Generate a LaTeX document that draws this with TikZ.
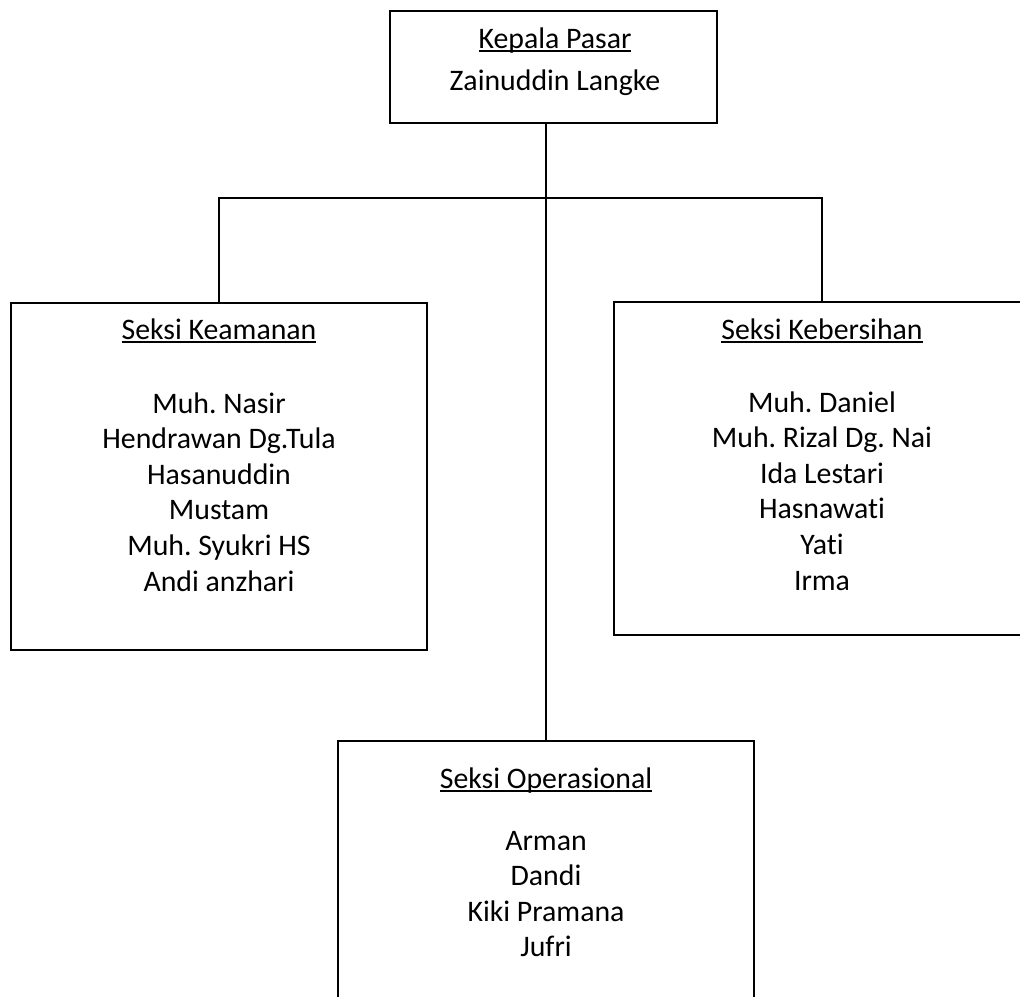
\documentclass[tikz,border=0pt]{standalone}
\usepackage{fontspec}
\setmainfont[Ligatures=NoCommon]{Carlito}
\frenchspacing
\newcommand\myul[1]{\setbox0\hbox{#1}\rlap{\rule[-4pt]{\wd0}{1.6pt}}\box0}
\newcommand\stacklines[1]{\begin{tabular}[t]{@{}c@{}}#1\end{tabular}}
\tikzset{
  orgbox/.style={draw=black, line width=2pt, rectangle, inner sep=0pt},
  orgtext/.style={anchor=base, inner sep=0pt, font=\fontsize{29.8}{35.6}\selectfont},
  link/.style={draw=black, line width=2pt}
}
\begin{document}
\begin{tikzpicture}[x=1pt,y=-1pt]
\useasboundingbox (0,0) rectangle (1020,996);
\clip (0,0) rectangle (1020,996);
% boxes
\node[orgbox, minimum width=327, minimum height=112] (top) at (553.5,67) {};
\node[orgbox, minimum width=416, minimum height=347] (kea) at (219,476.5) {};
\node[orgbox, minimum width=416, minimum height=333] (keb) at (822,468.5) {};
\node[orgbox, minimum width=416, minimum height=269] (ops) at (546,875.5) {};
% texts
\node[orgtext] (toptitle) at (555,48) {\myul{Kepala Pasar}};
\node[orgtext] (topname) at (555,90) {Zainuddin Langke};
\node[orgtext] (keatitle) at (219,339) {\myul{Seksi Keamanan}};
\node[orgtext] (keanames) at (219,413) {\stacklines{Muh. Nasir\\Hendrawan Dg.Tula\\Hasanuddin\\Mustam\\Muh. Syukri HS\\Andi anzhari}};
\node[orgtext] (kebtitle) at (822,339) {\myul{Seksi Kebersihan}};
\node[orgtext] (kebnames) at (822,412) {\stacklines{Muh. Daniel\\Muh. Rizal Dg. Nai\\Ida Lestari\\Hasnawati\\Yati\\Irma}};
\node[orgtext] (opstitle) at (546,788) {\myul{Seksi Operasional}};
\node[orgtext] (opsnames) at (546,850) {\stacklines{Arman\\Dandi\\Kiki Pramana\\Jufri}};
% connectors
\coordinate (j) at (546,198);
\draw[link] (top.south -| j) -- (ops.north -| j);
\draw[link] (kea.north) |- (j) -| (keb.north);
\end{tikzpicture}
\end{document}
